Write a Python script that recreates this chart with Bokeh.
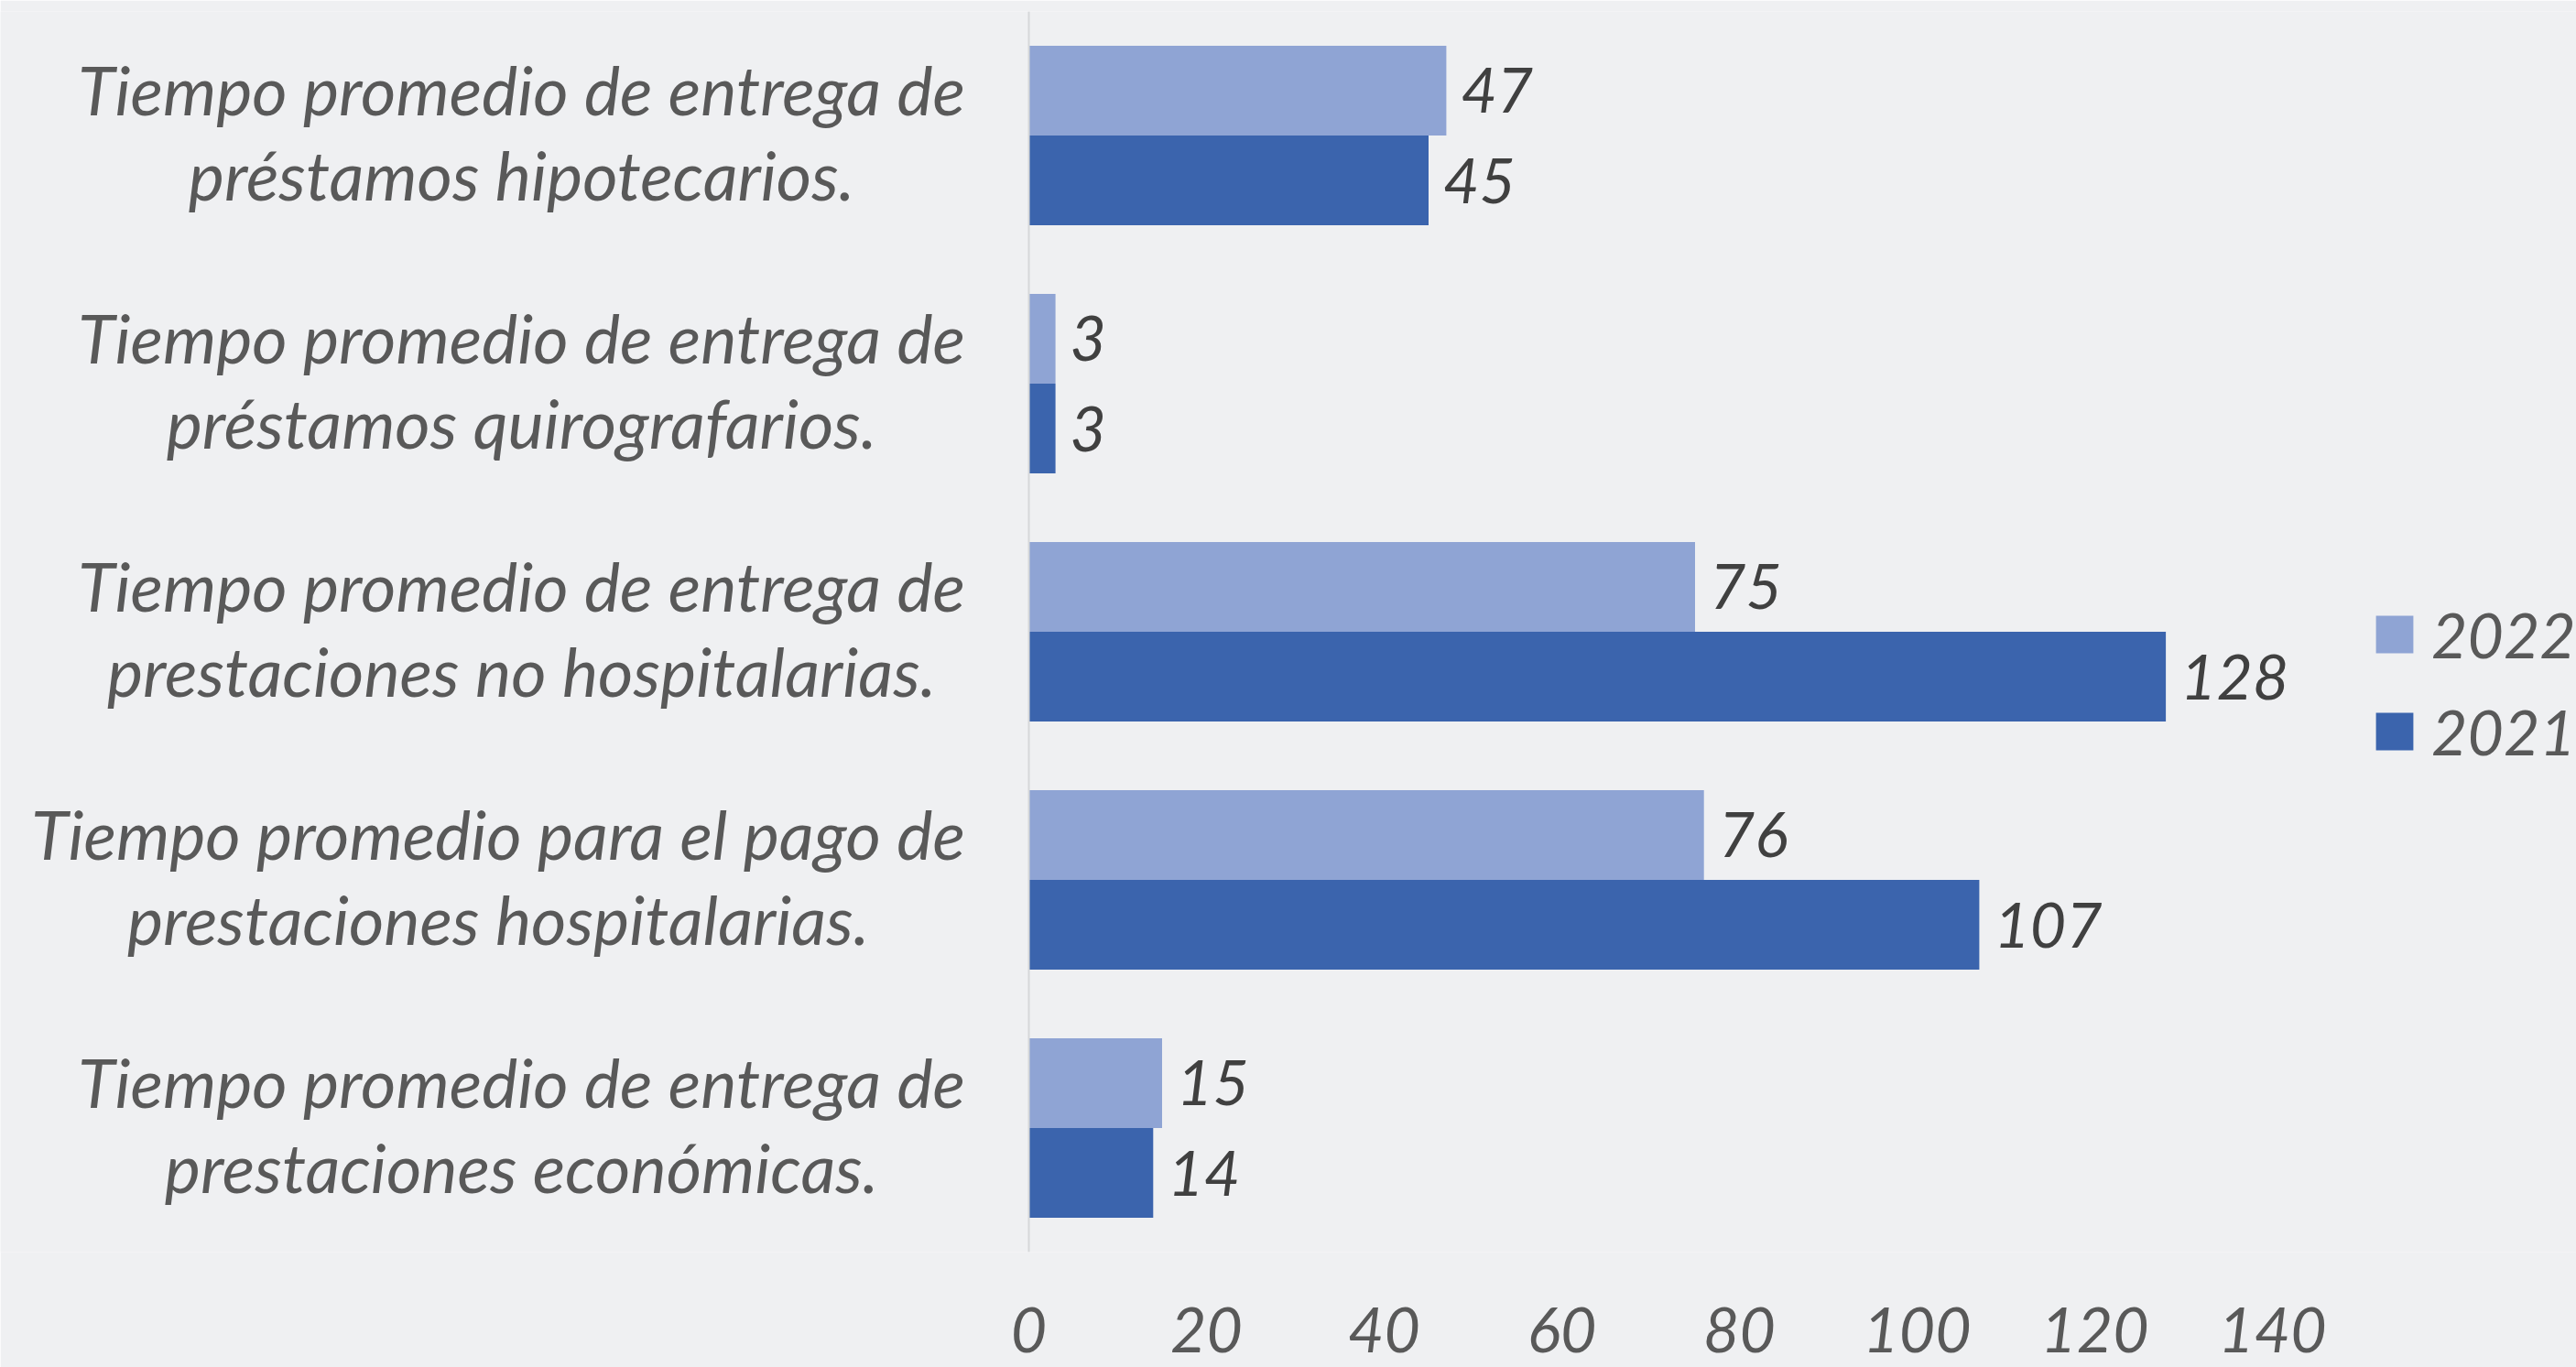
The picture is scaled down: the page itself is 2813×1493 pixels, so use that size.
from bokeh.plotting import figure
from bokeh.models import FactorRange, Range1d, FixedTicker, Legend, LegendItem, ColumnDataSource, Span
from bokeh.transform import dodge
from bokeh.embed import file_html
from bokeh.resources import INLINE
from bokeh.core.properties import value

categories = [
    "Tiempo promedio de entrega de\npréstamos hipotecarios.",
    "Tiempo promedio de entrega de\npréstamos quirografarios.",
    "Tiempo promedio de entrega de\nprestaciones no hospitalarias.",
    "Tiempo promedio para el pago de\nprestaciones hospitalarias.",
    "Tiempo promedio de entrega de\nprestaciones económicas.",
]
values_2022 = [47, 3, 75, 76, 15]
values_2021 = [45, 3, 128, 107, 14]
series_names = ["2022", "2021"]
x_ticks = [0, 20, 40, 60, 80, 100, 120, 140]

FONT = "Lato"
FS = "68px"
LABEL_FS = "74px"
C22 = "#8FA4D4"
C21 = "#3B64AD"
BG = "#eff0f2"

W, H = 2813, 1493
ZERO_PX = 1123          # screen x of value 0
PX_PER_UNIT = 9.70
x_start = -ZERO_PX / PX_PER_UNIT
x_end = (W - ZERO_PX) / PX_PER_UNIT

p = figure(
    width=W, height=H,
    y_range=FactorRange(factors=list(reversed(categories)), range_padding=0),
    x_range=Range1d(x_start, x_end),
    y_axis_location=None,
    output_backend="svg", toolbar_location=None,
    min_border_left=0, min_border_right=0, min_border_top=12, min_border_bottom=126,
)
p.background_fill_color = BG
p.border_fill_color = BG
p.outline_line_color = None
p.grid.visible = False

# category label layout: block right edge at screen x 1051, lines centered within block
first_line_width_px = {"Tiempo promedio de entrega de": 964, "Tiempo promedio para el pago de": 1015}
label_x = [(1051 - first_line_width_px[c.split("\n")[0]] / 2 - ZERO_PX) / PX_PER_UNIT for c in categories]

src = ColumnDataSource(dict(
    cat=categories,
    v22=values_2022, v21=values_2021,
    l22=[str(v) for v in values_2022], l21=[str(v) for v in values_2021],
    lx=label_x,
))

p.add_layout(Span(location=0, dimension="height", line_color="#d6d7d9", line_width=2))

off = 0.181
r22 = p.hbar(y=dodge("cat", off, range=p.y_range), left=0, right="v22", height=0.362,
             source=src, fill_color=C22, line_color=None)
r21 = p.hbar(y=dodge("cat", -off, range=p.y_range), left=0, right="v21", height=0.362,
             source=src, fill_color=C21, line_color=None)

for col, sgn in (("22", 1), ("21", -1)):
    p.text(x="v" + col, y=dodge("cat", sgn * off, range=p.y_range), text="l" + col, source=src,
           x_offset=16, text_align="left", text_baseline="middle",
           text_font=value(FONT), text_font_style="italic", text_font_size=FS, text_color="#404040")

p.text(x="lx", y="cat", text="cat", source=src, text_align="center", text_baseline="middle",
       y_offset=-4,
       text_font=value(FONT), text_font_style="italic", text_font_size=LABEL_FS,
       text_line_height=1.04, text_color="#595959")

xa = p.xaxis[0]
xa.ticker = FixedTicker(ticks=x_ticks)
xa.axis_line_color = None
xa.major_tick_line_color = None
xa.minor_tick_line_color = None
xa.major_label_standoff = 54
xa.major_label_text_font = FONT
xa.major_label_text_font_style = "italic"
xa.major_label_text_font_size = FS
xa.major_label_text_color = "#595959"

legend = Legend(
    items=[LegendItem(label=series_names[0], renderers=[r22]),
           LegendItem(label=series_names[1], renderers=[r21])],
    location=(2589, 528),
    padding=0, margin=0, spacing=25,
    glyph_width=51, glyph_height=51, label_standoff=15,
    label_text_font=FONT, label_text_font_style="italic", label_text_font_size=FS,
    label_text_color="#595959",
    border_line_color=None, background_fill_alpha=0,
)
p.add_layout(legend, "center")

open("out.html", "w").write(file_html(p, INLINE))
